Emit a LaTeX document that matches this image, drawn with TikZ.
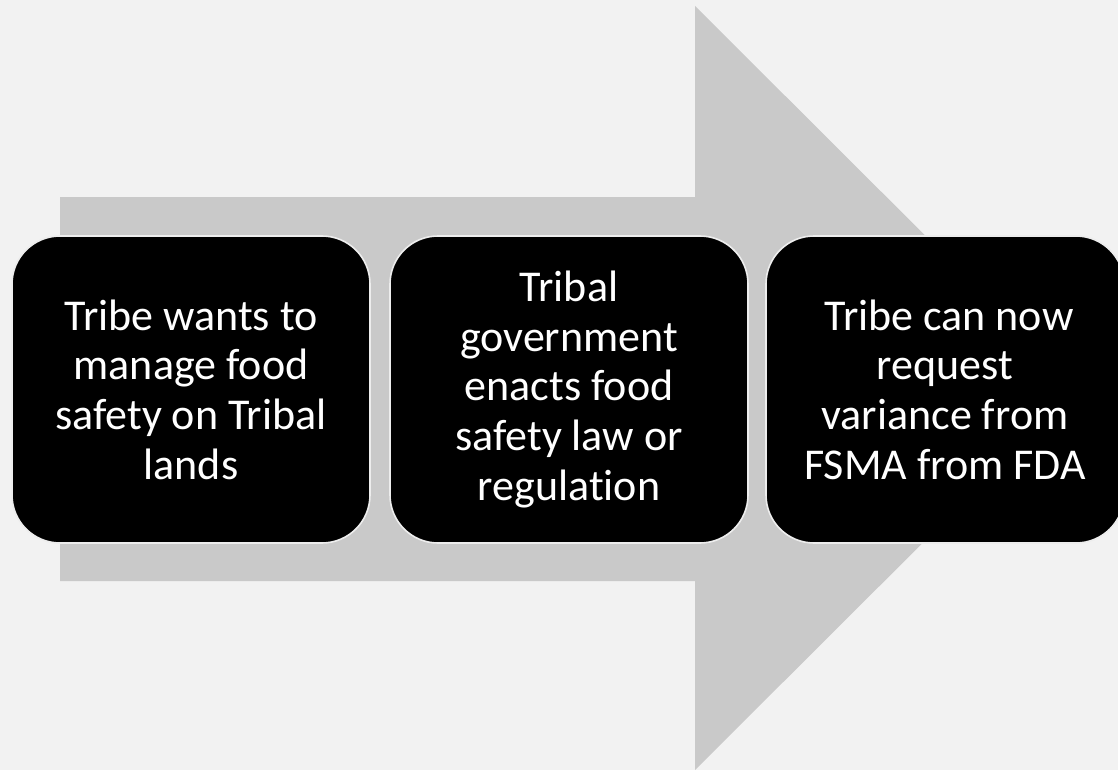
\documentclass[tikz,border=0pt]{standalone}
\usepackage{fontspec}
\setmainfont[Ligatures=NoCommon]{Carlito}
\begin{document}
\definecolor{pagebg}{HTML}{F2F2F2}
\definecolor{arrowgray}{HTML}{C9C9C9}
\definecolor{rimcol}{HTML}{EDEDED}
\begin{tikzpicture}[x=1pt,y=-1pt,
  stepbox/.style={fill=black, draw=rimcol, line width=1.6pt,
    rounded corners=48pt, minimum width=358pt, minimum height=307pt,
    inner sep=0pt, text=white, align=center,
    font=\fontsize{44}{49.6}\selectfont}]
  % page
  \fill[pagebg] (0,0) rectangle (1118,770);
  \useasboundingbox (0,0) rectangle (1118,770);
  % large block arrow behind the steps
  \fill[arrowgray] (60,197) -- (695,197) -- (695,6) -- (1078,388)
    -- (695,770) -- (695,581) -- (60,581) -- cycle;
  % process steps
  \node[stepbox] (s1) at (191,389.5) {Tribe wants to\\manage food\\safety on Tribal\\lands};
  \node[stepbox] (s2) at (569,389.5) {Tribal\\government\\enacts food\\safety law or\\regulation};
  \node[stepbox] (s3) at (945,389.5) {\hspace*{8pt}Tribe can now\\request\\variance from\\FSMA from FDA};
\end{tikzpicture}
\end{document}
